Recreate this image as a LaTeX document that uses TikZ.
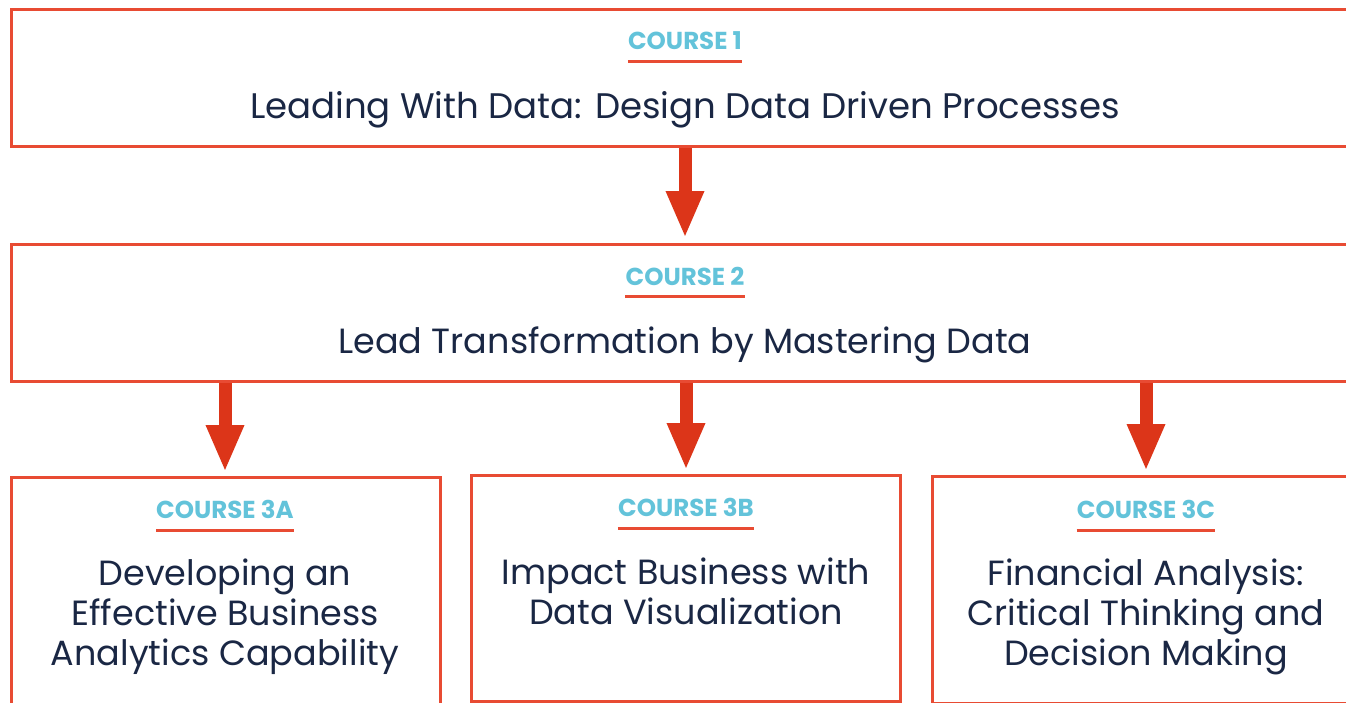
\documentclass[tikz,border=0pt]{standalone}
\usepackage{fontspec}
\setmainfont{Poppins}
\usetikzlibrary{arrows.meta}
\definecolor{boxred}{HTML}{E84B33}
\definecolor{arrred}{HTML}{DC3519}
\definecolor{cblue}{HTML}{63C3DA}
\definecolor{navy}{HTML}{1A2744}
\tikzset{
  coursebox/.style={draw=boxred, line width=2.5pt, rectangle, anchor=north west, inner sep=0pt},
  tag/.style={text=cblue, font=\fontsize{24.5}{28}\selectfont\bfseries, inner sep=0pt, anchor=base},
  tagline/.style={draw=boxred, line width=3pt},
  title/.style={text=navy, font=\fontsize{35.5}{40}\selectfont, inner sep=0pt, anchor=base},
  subtitle/.style={text=navy, font=\fontsize{35}{40}\selectfont, inner sep=0pt, align=center, anchor=north},
  bigarrow/.style={draw=arrred, line width=13pt, -{Triangle[width=35pt,length=47pt]}}
}
\begin{document}
\begin{tikzpicture}[x=1pt,y=-1pt]
\useasboundingbox (0,0) rectangle (1346,702);
\clip (0,0) rectangle (1346,702);
\fill[white] (0,0) rectangle (1346,702);
% boxes
\node[coursebox, minimum width=1400pt, minimum height=137pt] (c1) at (10,8) {};
\node[coursebox, minimum width=1400pt, minimum height=137pt] (c2) at (10,243) {};
\node[coursebox, minimum width=429pt, minimum height=240pt] (c3a) at (10,476) {};
\node[coursebox, minimum width=429pt, minimum height=226pt] (c3b) at (470,474) {};
\node[coursebox, minimum width=480pt, minimum height=227pt] (c3c) at (931,475) {};
% labels
\node[tag] (t1) at (685,49.5) {COURSE 1};
\draw[tagline] ([yshift=-12pt]t1.base west) -- ([yshift=-12pt]t1.base east);
\node[title] (n1) at (685,118) {Leading With Data: Design Data Driven Processes};

\node[tag] (t2) at (685,285) {COURSE 2};
\draw[tagline] ([yshift=-11.5pt]t2.base west) -- ([yshift=-11.5pt]t2.base east);
\node[title, font=\fontsize{35}{40}\selectfont] (n2) at (685,353) {Lead Transformation by Mastering Data};

\node[tag] (t3a) at (225,518) {COURSE 3A};
\draw[tagline] ([yshift=-12pt]t3a.base west) -- ([yshift=-12pt]t3a.base east);
\node[subtitle] (n3a) at (225,559) {Developing an\\Effective Business\\Analytics Capability};

\node[tag] (t3b) at (686,516) {COURSE 3B};
\draw[tagline] ([yshift=-12pt]t3b.base west) -- ([yshift=-12pt]t3b.base east);
\node[subtitle] (n3b) at (686,557.5) {Impact Business with\\Data Visualization};

\node[tag] (t3c) at (1146,518) {COURSE 3C};
\draw[tagline] ([yshift=-12pt]t3c.base west) -- ([yshift=-12pt]t3c.base east);
\node[subtitle] (n3c) at (1146,559) {Financial Analysis:\\Critical Thinking and\\Decision Making};
% arrows
\coordinate (a1s) at (685,148); \coordinate (a1e) at (685,238);
\coordinate (a2s) at (225,383); \coordinate (a2e) at (225,472);
\coordinate (a3s) at (686,383); \coordinate (a3e) at (686,470);
\coordinate (a4s) at (1146,383); \coordinate (a4e) at (1146,471);
\draw[bigarrow] (a1s) -- (a1e);
\draw[bigarrow] (a2s) -- (a2e);
\draw[bigarrow] (a3s) -- (a3e);
\draw[bigarrow] (a4s) -- (a4e);
\end{tikzpicture}
\end{document}
